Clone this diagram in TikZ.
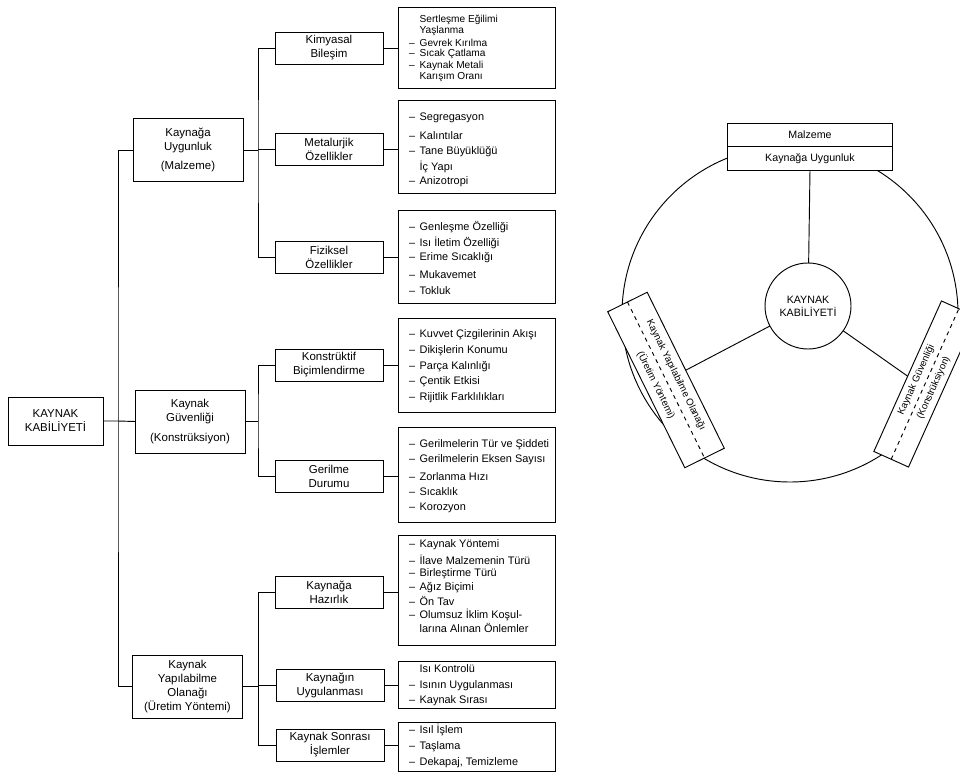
\documentclass[tikz,border=0pt]{standalone}
\usepackage{fontspec}
\setmainfont{Liberation Sans}
\usetikzlibrary{calc}
\newcommand\dsh{\makebox[8pt][l]{–}}
\newcommand\nds{\makebox[8pt][l]{}}
\begin{document}
\begin{tikzpicture}[x=0.75pt,y=-0.75pt,
  every node/.style={inner sep=0pt,outer sep=0pt},
  every path/.style={line width=0.7pt},
  bx/.style={draw,rectangle,align=center,font=\fontsize{8.6}{10.5}\selectfont},
  rootbox/.style={bx,minimum width=71.25pt,minimum height=36pt},
  lvtwo/.style={bx,minimum width=82.5pt,minimum height=47.25pt},
  lvthree/.style={bx,minimum width=81pt,minimum height=24pt},
  listbox/.style={draw,rectangle,minimum width=117.75pt,anchor=north west},
  item/.style={anchor=west,font=\fontsize{8.2}{10}\selectfont},
  smallitem/.style={anchor=west,font=\fontsize{7.6}{9}\selectfont},
  rtext/.style={font=\fontsize{8}{9.5}\selectfont,align=center},
  stext/.style={font=\fontsize{7.3}{8.5}\selectfont,align=center},
  rbox/.style={draw,fill=white,rectangle}
]
\useasboundingbox (0,0) rectangle (960,773);

% ---------------- left tree ----------------
\node[rootbox] (root) at (55.5,421) {KAYNAK\\KABİLİYETİ};

\node[lvtwo] (ua) at (188,150) {Kaynağa\\Uygunluk\\[4pt](Malzeme)};
\node[lvtwo] (ub) at (190,421.5) {Kaynak\\Güvenliği\\[4pt](Konstrüksiyon)};
\node[lvtwo] (uc) at (187.5,686.5) {Kaynak\\Yapılabilme\\Olanağı\\(Üretim Yöntemi)};

\node[lvthree] (k1) at (329,48) {Kimyasal\\Bileşim};
\node[lvthree] (k2) at (329,149) {Metalurjik\\Özellikler};
\node[lvthree] (k3) at (329,257) {Fiziksel\\Özellikler};
\node[lvthree] (k4) at (329,365) {Konstrüktif\\Biçimlendirme};
\node[lvthree] (k5) at (329,476) {Gerilme\\Durumu};
\node[lvthree] (k6) at (329,592) {Kaynağa\\Hazırlık};
\node[lvthree] (k7) at (330,685) {Kaynağın\\Uygulanması};
\node[lvthree] (k8) at (330,745) {Kaynak Sonrası\\İşlemler};

\node[listbox,minimum height=60.75pt] (l1) at (398,7) {};
\node[listbox,minimum height=69.75pt] (l2) at (398,100) {};
\node[listbox,minimum height=69.75pt] (l3) at (398,210) {};
\node[listbox,minimum height=70.5pt]  (l4) at (398,318) {};
\node[listbox,minimum height=71.25pt] (l5) at (398,427) {};
\node[listbox,minimum height=82.5pt]  (l6) at (398,535) {};
\node[listbox,minimum height=35.25pt] (l7) at (398,661) {};
\node[listbox,minimum height=36.75pt] (l8) at (398,722) {};

\foreach [count=\i] \yy/\txt in {19.5/{\nds Sertleşme Eğilimi},31/{\nds Yaşlanma},42.5/{\dsh Gevrek Kırılma},54/{\dsh Sıcak Çatlama},65.5/{\dsh Kaynak Metali},77/{\nds Karışım Oranı}}
  \node[smallitem] (a\i) at (409,\yy) {\txt};
\foreach [count=\i] \yy/\txt in {118/{\dsh Segregasyon},136/{\dsh Kalıntılar},152/{\dsh Tane Büyüklüğü},167/{\nds İç Yapı},182/{\dsh Anizotropi}}
  \node[item] (b\i) at (409,\yy) {\txt};
\foreach [count=\i] \yy/\txt in {227/{\dsh Genleşme Özelliği},243/{\dsh Isı İletim Özelliği},258/{\dsh Erime Sıcaklığı},275/{\dsh Mukavemet},291/{\dsh Tokluk}}
  \node[item] (c\i) at (409,\yy) {\txt};
\foreach [count=\i] \yy/\txt in {335/{\dsh Kuvvet Çizgilerinin Akışı},351/{\dsh Dikişlerin Konumu},367/{\dsh Parça Kalınlığı},382/{\dsh Çentik Etkisi},398/{\dsh Rijitlik Farklılıkları}}
  \node[item] (d\i) at (409,\yy) {\txt};
\foreach [count=\i] \yy/\txt in {445/{\dsh Gerilmelerin Tür ve Şiddeti},460/{\dsh Gerilmelerin Eksen Sayısı},477/{\dsh Zorlanma Hızı},492/{\dsh Sıcaklık},508/{\dsh Korozyon}}
  \node[item] (e\i) at (409,\yy) {\txt};
\foreach [count=\i] \yy/\txt in {545/{\dsh Kaynak Yöntemi},559.5/{\dsh İlave Malzemenin Türü},573.5/{\dsh Birleştirme Türü},587.5/{\dsh Ağız Biçimi},601/{\dsh Ön Tav},615/{\dsh Olumsuz İklim Koşul-},628/{\nds larına Alınan Önlemler}}
  \node[item] (f\i) at (409,\yy) {\txt};
\foreach [count=\i] \yy/\txt in {669/{\nds Isı Kontrolü},686/{\dsh Isının Uygulanması},701/{\dsh Kaynak Sırası}}
  \node[item] (g\i) at (409,\yy) {\txt};
\foreach [count=\i] \yy/\txt in {730/{\dsh Isıl İşlem},747/{\dsh Taşlama},763/{\dsh Dekapaj, Temizleme}}
  \node[item] (h\i) at (409,\yy) {\txt};

% connectors level 1 -> 2
\draw (root.east) -- ++(15,0) coordinate (t) -- (ub.west);
\draw (ua.west) -| (t) |- (uc.west);
% level 2 -> 3
\draw (ua.east) -- ++(15,0) coordinate (j1);
\draw (k1.west) -| (j1) |- (k3.west);
\draw (k2.west) -- (k2.west -| j1);
\draw (ub.east) -- ++(13,0) coordinate (j2);
\draw (k4.west) -| (j2) |- (k5.west);
\draw (uc.east) -- ++(16,0) coordinate (j3);
\draw (k6.west) -| (j3) |- (k8.west);
\draw (k7.west) -- (k7.west -| j3);
% level 3 -> lists
\foreach \k/\l in {k1/l1,k2/l2,k3/l3,k4/l4,k5/l5,k6/l6,k7/l7,k8/l8}
  \draw (\k.east) -- (\k.east -| \l.west);

% ---------------- right diagram ----------------
\node[circle,draw,minimum size=252pt] (big) at (790,314) {};
\node[circle,draw,fill=white,minimum size=64.5pt,rtext] (kc) at (808,306) {KAYNAK\\KABİLİYETİ};

\node[rbox,minimum width=123.75pt,minimum height=35.25pt] (tb) at (810,146.5) {};
\draw (tb.west) -- (tb.east);
\node[rtext] (tb1) at ($(tb.center)!0.5!(tb.north)$) {Malzeme};
\node[rtext] (tb2) at ($(tb.center)!0.5!(tb.south)$) {Kaynağa Uygunluk};

\node[rbox,rotate=-63.7,minimum width=130.5pt,minimum height=33pt] (lb) at (666,380) {};
\draw[dashed] (lb.west) -- (lb.east);
\node[stext,rotate=-63.7] (lb1) at ($(lb.center)!0.5!(lb.north)$) {Kaynak Yapılabilme Olanağı};
\node[stext,rotate=-63.7] (lb2) at ($(lb.center)!0.5!(lb.south)$) {(Üretim Yöntemi)};

\node[rbox,rotate=65.8,minimum width=123.75pt,minimum height=28.5pt] (rb) at (925,384) {};
\draw[dashed] (rb.west) -- (rb.east);
\node[stext,rotate=65.8] (rb1) at ($(rb.center)!0.5!(rb.north)$) {Kaynak Güvenliği};
\node[stext,rotate=65.8] (rb2) at ($(rb.center)!0.5!(rb.south)$) {(Konstrüksiyon)};

\draw (tb.south) -- (kc);
\draw (lb.north) -- (kc);
\draw (rb.north) -- (kc);
\end{tikzpicture}
\end{document}
